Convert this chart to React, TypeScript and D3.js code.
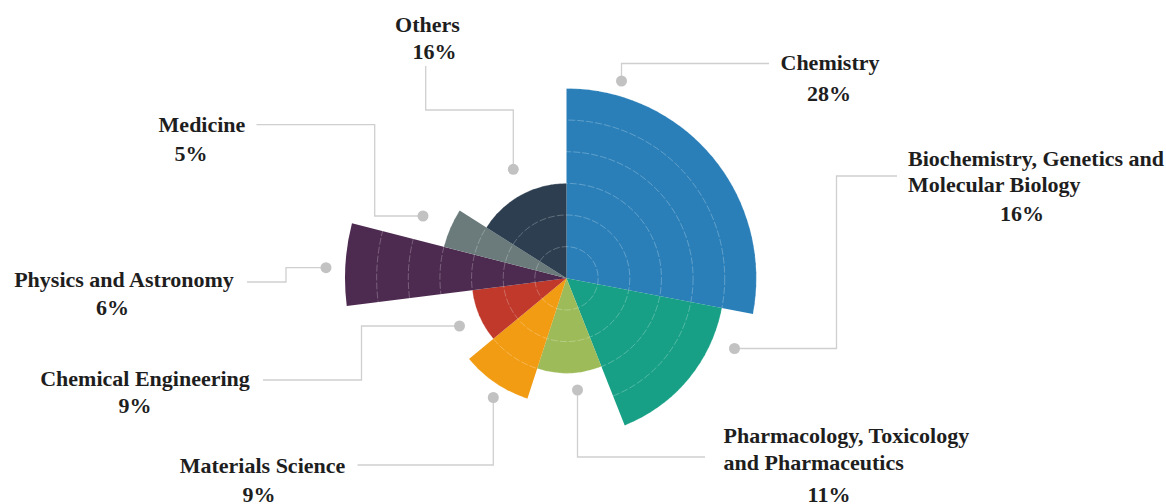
import * as d3 from "d3";

const categories = [
  "Chemistry",
  "Biochemistry, Genetics and Molecular Biology",
  "Pharmacology, Toxicology and Pharmaceutics",
  "Materials Science",
  "Chemical Engineering",
  "Physics and Astronomy",
  "Medicine",
  "Others",
];
// share of documents (%), sets the angle of each slice
const shares = [28, 16, 11, 9, 9, 6, 5, 16];
// radial value of each slice
const radii = [6, 5, 3, 4, 3, 7, 4, 3];
const colors = ["#2a7fb8", "#17a085", "#9dbb58", "#f29c13", "#c0392b", "#4d2a50", "#6b7b7b", "#2c3e50"];
const gridTicks = [1, 2, 3, 4, 5, 6];

const W = 1166;
const H = 504;
const cx = 566.5;
const cy = 278.3;

// hand-placed annotations: dot, elbow path, text lines
type Layout = {
  path: [number, number][];
  wordsFirstLine?: number;
  anchor: "middle" | "start";
  x: number;
  ys: number[];
  pctX: number;
  pctY: number;
};
const layout: Layout[] = [
  { path: [[621.5, 81], [621.5, 63.5], [769, 63.5]], anchor: "middle", x: 830, ys: [70], pctX: 829, pctY: 101 },
  { path: [[734.5, 348.5], [836.5, 348.5], [836.5, 176], [897, 176]], wordsFirstLine: 3, anchor: "start", x: 908, ys: [165.7, 192.3], pctX: 1022, pctY: 220.7 },
  { path: [[577.5, 390], [577.5, 457], [705, 457]], wordsFirstLine: 2, anchor: "start", x: 723.5, ys: [443.3, 470], pctX: 829, pctY: 502 },
  { path: [[493.3, 397.5], [493.3, 465], [357.5, 465]], anchor: "middle", x: 262.5, ys: [473.3], pctX: 259, pctY: 502 },
  { path: [[459.5, 326], [361.5, 326], [361.5, 380], [263, 380]], anchor: "middle", x: 145, ys: [385.7], pctX: 135, pctY: 412.7 },
  { path: [[326, 267.7], [286, 267.7], [286, 282], [247, 282]], anchor: "middle", x: 124, ys: [287.3], pctX: 112.5, pctY: 315 },
  { path: [[423, 216], [374.7, 216], [374.7, 124.7], [256.5, 124.7]], anchor: "middle", x: 202, ys: [132], pctX: 191, pctY: 161 },
  { path: [[513.3, 169.3], [513.3, 110], [425.7, 110], [425.7, 66]], anchor: "middle", x: 427.5, ys: [32.3], pctX: 434.6, pctY: 59.3 },
];

export default function App() {
  const r = d3.scaleLinear().domain([0, 7]).range([0, 221.5]);
  const pie = d3
    .pie<number>()
    .sort(null)
    .value((d) => d)
    .startAngle(0)
    .endAngle(2 * Math.PI);
  const slices = pie(shares);
  const arc = d3.arc<d3.PieArcDatum<number>>().innerRadius(0);
  const line = d3.line();

  const splitName = (name: string, n?: number) => {
    if (!n) return [name];
    const words = name.split(" ");
    return [words.slice(0, n).join(" "), words.slice(n).join(" ")];
  };

  return (
    <svg
      width={W}
      height={H}
      style={{ position: "absolute", left: 0, top: 0, background: "#fff" }}
      fontFamily="'Liberation Serif', 'Times New Roman', serif"
    >
      <g transform={`translate(${cx},${cy})`}>
        {slices.map((s, i) => (
          <path key={i} d={arc.outerRadius(r(radii[i]))(s)!} fill={colors[i]} />
        ))}
        {gridTicks.map((t) => (
          <circle
            key={t}
            r={r(t)}
            fill="none"
            stroke="#fff"
            strokeOpacity={0.25}
            strokeWidth={1}
            strokeDasharray="7,2"
          />
        ))}
      </g>
      {layout.map((l, i) => (
        <g key={i}>
          <path d={line(l.path)!} fill="none" stroke="#cfcfcf" strokeWidth={1.3} />
          <circle cx={l.path[0][0]} cy={l.path[0][1]} r={5.5} fill="#c2c2c2" />
          {splitName(categories[i], l.wordsFirstLine).map((txt, j) => (
            <text
              key={j}
              x={l.x}
              y={l.ys[j]}
              textAnchor={l.anchor}
              fontSize={22}
              fontWeight="bold"
              fill="#1e1e1e"
            >
              {txt}
            </text>
          ))}
          <text x={l.pctX} y={l.pctY} textAnchor="middle" fontSize={22} fontWeight="bold" fill="#1e1e1e">
            {`${shares[i]}%`}
          </text>
        </g>
      ))}
    </svg>
  );
}
